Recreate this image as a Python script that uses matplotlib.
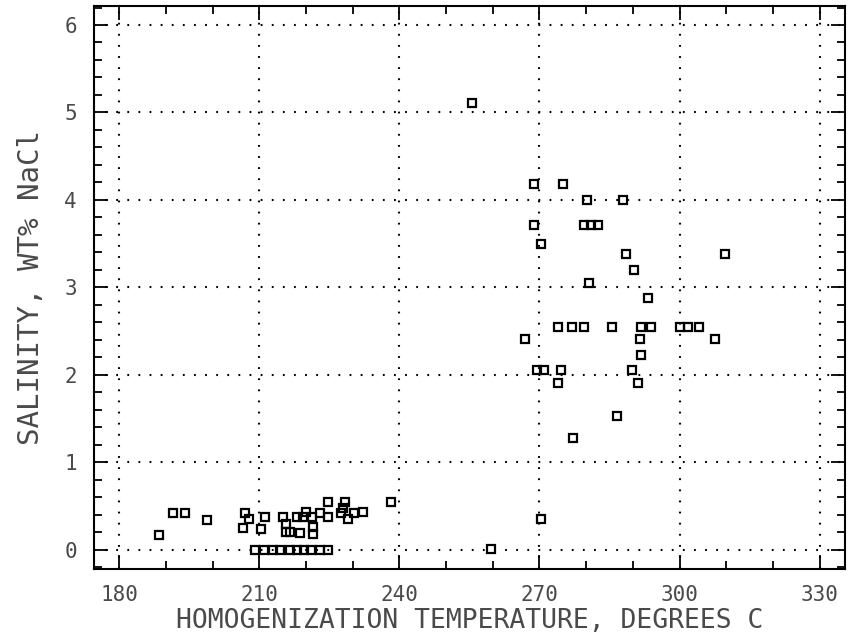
import numpy as np
import matplotlib
matplotlib.use("Agg")
import matplotlib.pyplot as plt
from matplotlib.ticker import MultipleLocator

plt.rcParams["lines.scale_dashes"] = False

# homogenization temperature (deg C) and salinity (wt% NaCl) of fluid inclusions
temp = [188.4, 191.5, 194.0, 198.7, 207.0, 207.7, 206.6, 210.3, 211.3,
        209.0, 211.0, 213.0, 214.5, 216.5, 218.0, 219.5, 221.0, 223.0, 224.8,
        215.0, 215.8, 215.8, 216.5, 218.6, 221.4, 221.4, 218.0, 219.3, 220.0,
        221.2, 222.9, 224.8, 224.8, 227.4, 228.3, 229.0, 230.2, 232.1, 227.9,
        238.2, 259.6, 255.5,
        268.8, 275.0, 280.2, 287.9, 268.8, 279.5, 281.0, 282.5, 270.3, 288.6,
        290.3, 309.8, 280.6, 293.3, 274.0, 277.0, 279.6, 285.6, 291.8, 293.9,
        300.2, 301.9, 304.2, 266.9, 291.6, 307.7, 291.8, 269.5, 271.0, 274.6,
        289.9, 274.0, 291.2, 286.6, 277.2, 270.3]
salinity = [0.17, 0.42, 0.42, 0.34, 0.42, 0.35, 0.25, 0.23, 0.37,
            0.0, 0.0, 0.0, 0.0, 0.0, 0.0, 0.0, 0.0, 0.0, 0.0,
            0.37, 0.29, 0.20, 0.20, 0.19, 0.18, 0.26, 0.37, 0.37, 0.43,
            0.37, 0.42, 0.37, 0.54, 0.42, 0.54, 0.35, 0.42, 0.43, 0.48,
            0.54, 0.01, 5.11,
            4.18, 4.18, 4.00, 4.00, 3.71, 3.71, 3.71, 3.71, 3.49, 3.38,
            3.20, 3.38, 3.05, 2.88, 2.55, 2.55, 2.55, 2.55, 2.55, 2.55,
            2.55, 2.55, 2.55, 2.41, 2.41, 2.41, 2.23, 2.05, 2.05, 2.05,
            2.05, 1.90, 1.91, 1.53, 1.28, 0.35]

x_ticks = [180, 210, 240, 270, 300, 330]
y_ticks = [0, 1, 2, 3, 4, 5, 6]

ink = "#4a4a4a"
mono = ["DejaVu Sans Mono"]

fig = plt.figure(figsize=(8.59, 6.42), dpi=100)
ax = fig.add_axes([0.109, 0.114, 0.875, 0.877])

ax.plot(temp, salinity, ls="none", marker="s", ms=6, mfc="none",
        mec="black", mew=1.6)

ax.set_xlim(174.5, 335.5)
ax.set_ylim(-0.22, 6.22)
ax.set_xticks(x_ticks)
ax.set_yticks(y_ticks)
ax.xaxis.set_minor_locator(MultipleLocator(10))
ax.yaxis.set_minor_locator(MultipleLocator(0.2))
ax.tick_params(which="both", direction="in", top=True, right=True,
               color="black", width=1.3)
ax.tick_params(which="major", length=10)
ax.tick_params(which="minor", length=6)
ax.tick_params(axis="x", pad=12)
ax.tick_params(axis="y", pad=12)

ax.grid(True, which="major", color="black", lw=1.5, ls=(0, (1.3, 6.7)))

for lab in ax.get_xticklabels() + ax.get_yticklabels():
    lab.set_family(mono)
    lab.set_fontsize(15)
    lab.set_color(ink)

for s in ax.spines.values():
    s.set_linewidth(1.5)

ax.set_xlabel("HOMOGENIZATION TEMPERATURE, DEGREES C", family=mono,
              fontsize=19, color=ink, labelpad=2)
ax.set_ylabel("SALINITY, WT% NaCl", family=mono, fontsize=21, color=ink,
              labelpad=14)

fig.savefig("out.png", dpi=100)
